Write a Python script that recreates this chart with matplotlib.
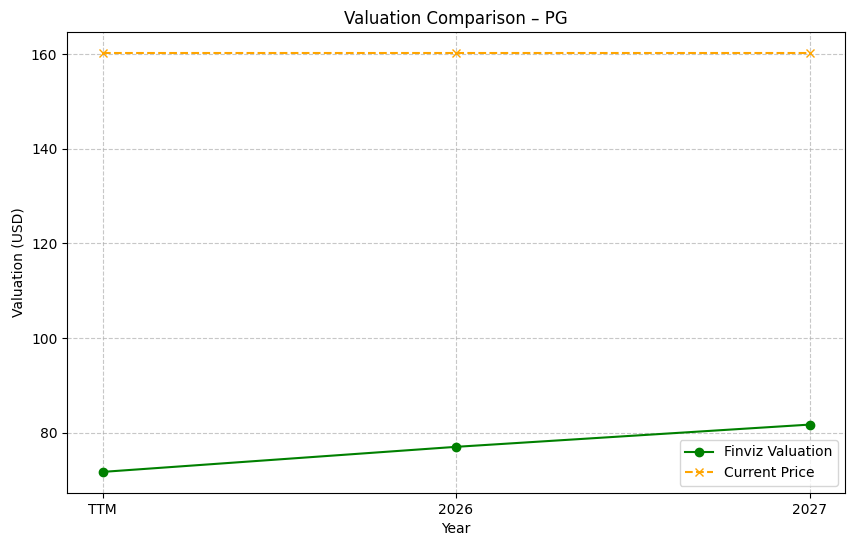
import matplotlib
matplotlib.use("Agg")
import matplotlib.pyplot as plt

years = ["TTM", "2026", "2027"]
finviz = [71.7, 77.0, 81.7]
price = [160.2, 160.2, 160.2]

fig, ax = plt.subplots(figsize=(8.5, 5.47), dpi=100)
fig.subplots_adjust(left=0.079, right=0.994, top=0.941, bottom=0.099)
ax.plot(years, finviz, marker="o", color="green", label="Finviz Valuation")
ax.plot(years, price, marker="x", linestyle="--", color="orange", label="Current Price")
ax.set_title("Valuation Comparison – PG")
ax.set_xlabel("Year")
ax.set_ylabel("Valuation (USD)")
ax.grid(True, linestyle="--", alpha=0.7)
ax.legend(loc="lower right")
fig.savefig("out.png")
